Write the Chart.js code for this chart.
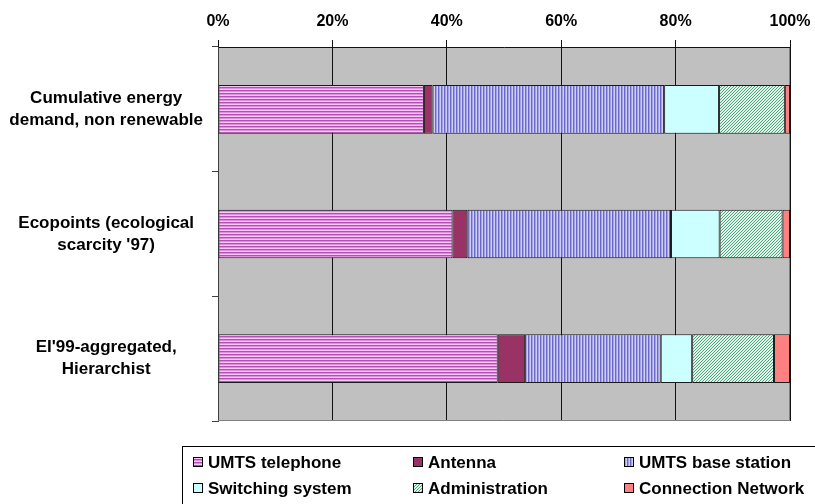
<!DOCTYPE html>
<html>
<head>
<meta charset="utf-8">
<script src="https://cdn.jsdelivr.net/npm/chart.js@4/dist/chart.umd.min.js"></script>
<style>
  html, body { margin: 0; padding: 0; background: #fff; }
  #wrap { width: 815px; height: 504px; }
</style>
</head>
<body>
<div id="wrap"><canvas id="c" width="815" height="504"></canvas></div>
<script>
// Impact categories (rows) and the share of each life-cycle component, in percent
const categories = [
  ['Cumulative energy', 'demand, non renewable'],
  ['Ecopoints (ecological', "scarcity '97)"],
  ["EI'99-aggregated,", 'Hierarchist']
];
const seriesNames = ['UMTS telephone', 'Antenna', 'UMTS base station',
                     'Switching system', 'Administration', 'Connection Network'];
const umtsTelephone     = [36.0, 41.0, 48.9];
const antenna           = [1.5, 2.6, 4.8];
const umtsBaseStation   = [40.5, 35.6, 23.7];
const switchingSystem   = [9.6, 8.5, 5.5];
const administration    = [11.5, 11.0, 14.3];
const connectionNetwork = [0.9, 1.3, 2.8];
const percentTicks      = [0, 20, 40, 60, 80, 100];

const FONT = '"Liberation Sans", Arial, Helvetica, sans-serif';
Chart.defaults.font.family = FONT;

// Small tiled fills for the hatched series
function makePattern(w, h, paint) {
  const c = document.createElement('canvas');
  c.width = w; c.height = h;
  const g = c.getContext('2d');
  paint(g);
  return g.createPattern(c, 'repeat');
}
const horizStripes = makePattern(1, 3, g => {
  ['#B24FB2', '#E08FE0', '#F6C8F6'].forEach((col, i) => { g.fillStyle = col; g.fillRect(0, i, 1, 1); });
});
const vertStripes = makePattern(3, 1, g => {
  ['#6A6AC2', '#A2A2EC', '#CECEF8'].forEach((col, i) => { g.fillStyle = col; g.fillRect(i, 0, 1, 1); });
});
const diagHatch = makePattern(3, 3, g => {
  g.fillStyle = '#E2F4E9'; g.fillRect(0, 0, 3, 3);
  g.fillStyle = '#4CA67E';
  for (let x = 0; x < 3; x++) for (let y = 0; y < 3; y++) if ((x + y) % 3 === 0) g.fillRect(x, y, 1, 1);
});

const seriesValues = [umtsTelephone, antenna, umtsBaseStation, switchingSystem, administration, connectionNetwork];
const seriesFills = [horizStripes, '#993366', vertStripes, '#CCFFFF', diagHatch, '#FF8080'];

const datasets = seriesNames.map((name, i) => ({
  label: name,
  data: seriesValues[i],
  backgroundColor: seriesFills[i],
  borderColor: '#1A1A1A',
  borderWidth: 1,
  borderSkipped: false,
  barPercentage: 0.39,
  categoryPercentage: 1.0
}));

// Grey plot background and the light frame on the bottom/right edges
const plotFrame = {
  id: 'plotFrame',
  beforeDraw(chart) {
    const { ctx, chartArea: a } = chart;
    ctx.save();
    ctx.fillStyle = '#FFFFFF';
    ctx.fillRect(0, 0, chart.width, chart.height);
    ctx.fillStyle = '#C0C0C0';
    ctx.fillRect(a.left, a.top, a.right - a.left, a.bottom - a.top);
    ctx.restore();
  },
  beforeDatasetsDraw(chart) {
    const { ctx, chartArea: a } = chart;
    ctx.save();
    ctx.strokeStyle = '#808080';
    ctx.lineWidth = 1;
    ctx.beginPath();
    ctx.moveTo(Math.round(a.right) - 0.5, a.top + 1);
    ctx.lineTo(Math.round(a.right) - 0.5, Math.round(a.bottom) - 0.5);
    ctx.lineTo(a.left, Math.round(a.bottom) - 0.5);
    ctx.stroke();
    ctx.restore();
  }
};

// Boxed legend laid out in three columns under the plot
const boxLegend = {
  id: 'boxLegend',
  afterDraw(chart) {
    const ctx = chart.ctx;
    const cols = [193, 413, 624];
    const rows = [462, 488];
    ctx.save();
    ctx.strokeStyle = '#000';
    ctx.lineWidth = 1;
    ctx.strokeRect(182.5, 446.5, 700, 100);
    ctx.font = 'bold 17px ' + FONT;
    ctx.textBaseline = 'middle';
    chart.data.datasets.forEach((ds, i) => {
      const x = cols[i % 3];
      const y = rows[Math.floor(i / 3)];
      ctx.fillStyle = ds.backgroundColor;
      ctx.fillRect(x, y - 5, 10, 10);
      ctx.strokeStyle = '#000';
      ctx.strokeRect(x + 0.5, y - 4.5, 9, 9);
      ctx.fillStyle = '#000';
      ctx.fillText(ds.label, x + 15, y + 1);
    });
    ctx.restore();
  }
};

new Chart(document.getElementById('c'), {
  type: 'bar',
  data: { labels: categories, datasets },
  plugins: [plotFrame, boxLegend],
  options: {
    indexAxis: 'y',
    responsive: false,
    animation: false,
    devicePixelRatio: 1,
    layout: { padding: { top: 0, left: 0, right: 25, bottom: 83 } },
    plugins: { legend: { display: false }, tooltip: { enabled: false } },
    scales: {
      x: {
        position: 'top',
        stacked: true,
        min: percentTicks[0],
        max: percentTicks[percentTicks.length - 1],
        afterBuildTicks(scale) { scale.ticks = percentTicks.map(v => ({ value: v })); },
        afterFit(scale) { scale.height = 47; scale.paddingLeft = 0; scale.paddingRight = 0; },
        ticks: {
          callback: v => v + '%',
          color: '#000',
          font: { size: 16, weight: 'bold' },
          padding: 9,
          maxRotation: 0
        },
        grid: { color: '#111', lineWidth: 1, tickLength: 7 },
        border: { color: '#111', width: 1 }
      },
      y: {
        stacked: true,
        afterFit(scale) { scale.width = 218; scale.paddingTop = 0; scale.paddingBottom = 0; },
        ticks: {
          color: '#000',
          font: { size: 17, weight: 'bold', lineHeight: 1.28 },
          crossAlign: 'center',
          padding: 9
        },
        grid: { drawOnChartArea: false, offset: true, tickLength: 6, color: '#404040' },
        border: { color: '#404040', width: 1 }
      }
    }
  }
});
</script>
</body>
</html>
